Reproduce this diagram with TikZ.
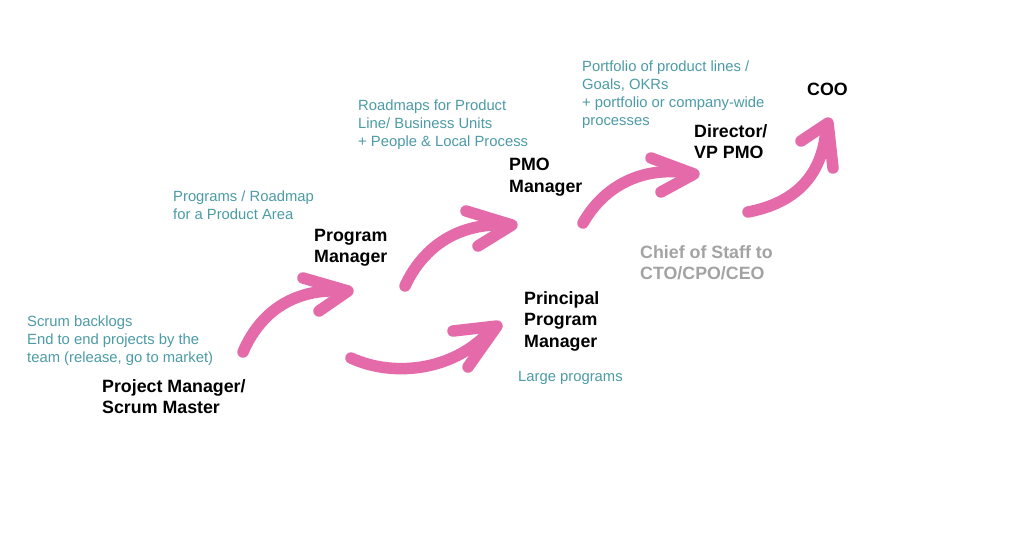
\documentclass[tikz,border=0pt]{standalone}
\usepackage{fontspec}
\setmainfont{Liberation Sans}
\definecolor{pinkc}{HTML}{E46AAA}
\definecolor{tealc}{HTML}{4C9BA6}
\definecolor{greyc}{HTML}{A3A3A3}
\begin{document}
\begin{tikzpicture}[x=1pt,y=-1pt,
  desc/.style={anchor=north west, inner sep=0pt, align=left, text=tealc, font=\fontsize{14.8}{18}\selectfont},
  role/.style={anchor=north west, inner sep=0pt, align=left, text=black, font=\fontsize{17.8}{21.5}\selectfont\bfseries},
  aside/.style={role, text=greyc},
  brush/.style={draw=pinkc, line width=11.5pt, line cap=round, line join=round}]
\useasboundingbox[fill=white] (0,0) rectangle (1024,542);

% texts
\node[desc] (d1) at (27,316) {Scrum backlogs\\End to end projects by the\\team (release, go to market)};
\node[role] (r1) at (102,379) {Project Manager/\\Scrum Master};
\node[desc] (d2) at (173,191) {Programs / Roadmap\\for a Product Area};
\node[role] (r2) at (314,229) {Program\\Manager};
\node[desc] (d3) at (358,100) {Roadmaps for Product\\Line/ Business Units\\+ People \& Local Process};
\node[role] (r3) at (509,158) {PMO\\Manager};
\node[role] (r4) at (524,291) {Principal\\Program\\Manager};
\node[desc] (d4) at (518,371) {Large programs};
\node[desc] (d5) at (582,61) {Portfolio of product lines /\\Goals, OKRs\\+ portfolio or company-wide\\processes};
\node[role] (r5) at (694,124) {Director/\\VP PMO};
\node[role] (r6) at (807,83) {COO};
\node[aside] (r7) at (640,245) {Chief of Staff to\\CTO/CPO/CEO};

% arrow 1: Project Manager -> Program Manager
\coordinate (a1s) at (243,352);
\coordinate (a1e) at (340,291);
\coordinate (a1t) at (348,291);
\draw[brush] (a1s) .. controls (262,308) and (298,289) .. (a1e);
\draw[brush] (303,278) -- (a1t) -- (319,311);

% arrow 2: Project Manager -> Principal Program Manager
\coordinate (a2s) at (351,358);
\coordinate (a2e) at (490,331);
\coordinate (a2t) at (497,326);
\draw[brush] (a2s) .. controls (392,377) and (452,372) .. (a2e);
\draw[brush] (453,331) -- (a2t) -- (468,367);

% arrow 3: Program Manager -> PMO Manager
\coordinate (a3s) at (405,286);
\coordinate (a3e) at (505,225);
\coordinate (a3t) at (512,225);
\draw[brush] (a3s) .. controls (424,245) and (460,223) .. (a3e);
\draw[brush] (466,211) -- (a3t) -- (478,246);

% arrow 4: PMO Manager -> Director/VP PMO
\coordinate (a4s) at (583,223);
\coordinate (a4e) at (688,173);
\coordinate (a4t) at (694,174);
\draw[brush] (a4s) .. controls (604,186) and (642,166) .. (a4e);
\draw[brush] (651,158) -- (a4t) -- (661,192);

% arrow 5: Chief of Staff -> COO
\coordinate (a5s) at (748,212);
\coordinate (a5e) at (826,130);
\coordinate (a5t) at (828,123);
\draw[brush] (a5s) .. controls (795,203) and (822,176) .. (a5e);
\draw[brush] (801,141) -- (a5t) -- (833,168);
\end{tikzpicture}
\end{document}
